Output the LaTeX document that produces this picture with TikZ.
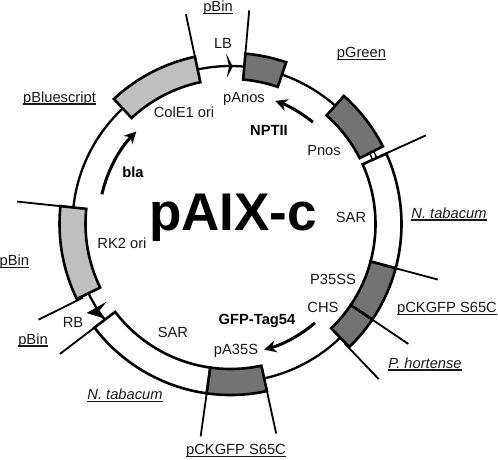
\documentclass[tikz,border=0pt]{standalone}
\usepackage{fontspec}
\setmainfont{Liberation Sans}
\usetikzlibrary{arrows.meta}
\tikzset{
  lab/.style={anchor=base,inner sep=0pt,font=\fontsize{14.7}{16}\selectfont,text=black!90},
  boldlab/.style={lab,font=\fontsize{14.7}{16}\selectfont\bfseries,text=black},
  seg/.style={draw=black,line width=2.6pt,line join=miter},
  leader/.style={draw=black,line width=1.8pt},
  backbone/.style={draw=black,line width=2.3pt},
  genearrow/.style={draw=black,line width=3pt,-{Stealth[length=12pt,width=12pt]}}
}
\definecolor{lightbox}{gray}{0.75}
\definecolor{darkbox}{gray}{0.45}
\newcommand{\ringbox}[3]{\path[seg,fill=#3] (#1:145) arc[start angle=#1,end angle=#2,radius=145] -- (#2:171) arc[start angle=#2,end angle=#1,radius=171] -- cycle;}
\newcommand{\leaderline}[1]{\draw[leader] (#1:165) -- (#1:214.5);}
\newcommand{\ulab}[1]{\setbox0\hbox{#1}\rlap{\rule[-2.5pt]{\wd0}{1.2pt}}\box0 }
\begin{document}
\begin{tikzpicture}[x=1pt,y=-1pt]
\useasboundingbox (0,0) rectangle (498,459);
\fill[white] (0,0) rectangle (498,459);
\begin{scope}[shift={(230.5,224)},y=1pt]
  \draw[backbone] (71:158) arc[start angle=71,end angle=102,radius=158];
  \draw[backbone] (133:158) arc[start angle=133,end angle=174,radius=158];
  \draw[backbone] (48:158) arc[start angle=48,end angle=71,radius=158];
  \draw[backbone] (206:158) arc[start angle=206,end angle=217,radius=158];
  \draw[backbone] (282:158) arc[start angle=282,end angle=314,radius=158];
  \draw[line width=1.4pt] (24.3:156) arc[start angle=24.3,end angle=27,radius=156];
  \draw[line width=1.4pt] (24.3:160.5) arc[start angle=24.3,end angle=27,radius=160.5];
  \ringbox{-15}{24.3}{white}
  \ringbox{217.3}{262}{white}
  \ringbox{27}{48.5}{darkbox}
  \ringbox{71}{85}{darkbox}
  \ringbox{102}{133}{lightbox}
  \ringbox{174}{206}{lightbox}
  \ringbox{262}{282.3}{darkbox}
  \ringbox{-34}{-15}{darkbox}
  \ringbox{-46}{-34}{darkbox}
  \leaderline{85}
  \leaderline{102}
  \leaderline{174}
  \leaderline{206.5}
  \leaderline{217.3}
  \leaderline{262}
  \leaderline{282.3}
  \leaderline{-46.3}
  \leaderline{-34}
  \leaderline{-15}
  \leaderline{24.4}
  \draw[genearrow] (51:131) arc[start angle=51,end angle=70,radius=131];
  \draw[genearrow] (-49.5:130) arc[start angle=-49.5,end angle=-75,radius=130];
  \draw[genearrow] (167:132) arc[start angle=167,end angle=135.5,radius=132];
\end{scope}
\fill (232.7,66.7) -- (226,53) -- (229,66.7) -- (226.7,78) -- cycle;
\fill (86.5,313) -- (106.7,301.7) -- (99,311) -- (103,318) -- cycle;
\node[lab] (t1) at (218,11.4) {\ulab{pBin}};
\node[lab] (t2) at (361.5,57.4) {\ulab{pGreen}};
\node[lab] (t3) at (223,48) {LB};
\node[lab] (t4) at (244,102) {pAnos};
\node[lab] (t5) at (184,117.5) {ColE1 ori};
\node[boldlab] (t6) at (269,135) {NPTII};
\node[lab] (t7) at (324,155) {Pnos};
\node[lab] (t8) at (59.5,102) {\ulab{pBluescript}};
\node[lab] (t9) at (351,222) {SAR};
\node[lab] (t10) at (449,218) {\ulab{\itshape N. tabacum}};
\node[lab] (t11) at (333,284) {P35SS};
\node[lab] (t12) at (447,312.4) {\ulab{pCKGFP S65C}};
\node[lab] (t13) at (323,312) {CHS};
\node[lab] (t14) at (425,368) {\ulab{\itshape P. hortense}};
\node[boldlab] (t15) at (257,324) {GFP-Tag54};
\node[lab] (t16) at (236,354) {pA35S};
\node[lab] (t17) at (173,337) {SAR};
\node[lab] (t18) at (125,399.5) {\ulab{\itshape N. tabacum}};
\node[lab] (t19) at (236,454.8) {\ulab{pCKGFP S65C}};
\node[lab] (t20) at (122,248) {RK2 ori};
\node[lab] (t21) at (14.3,265.4) {\ulab{pBin}};
\node[lab] (t22) at (73,327) {RB};
\node[lab] (t23) at (33,344) {\ulab{pBin}};
\node[boldlab] (t24) at (133,177) {bla};
\node[anchor=base,inner sep=0pt,font=\fontsize{53}{60}\selectfont\bfseries] (title) at (233,230) {pAIX-c};
\end{tikzpicture}
\end{document}
